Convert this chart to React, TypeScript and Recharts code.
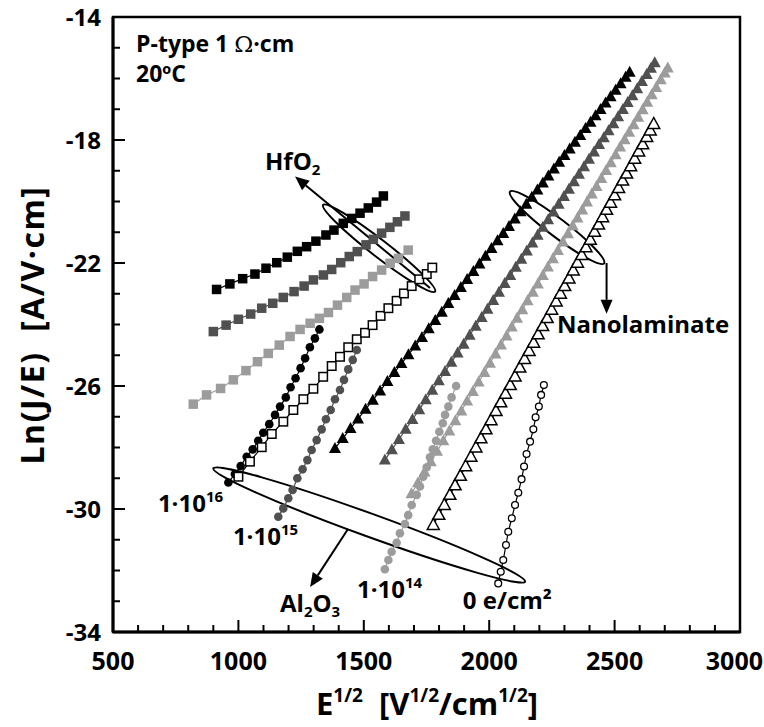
import React from 'react';
import { ScatterChart, Scatter, XAxis, YAxis, ReferenceArea, ReferenceLine, ReferenceDot } from 'recharts';

const FONT = '"Open Sans", "DejaVu Sans", sans-serif';
const DARK = '#505050';
const LIGHT = '#9c9c9c';

// axis ticks (labels only every 500 / every 4)
const xTicks = [500, 600, 700, 800, 900, 1000, 1100, 1200, 1300, 1400, 1500, 1600, 1700, 1800, 1900, 2000, 2100, 2200, 2300, 2400, 2500, 2600, 2700, 2800, 2900, 3000];
const yTicks = [-34, -33, -32, -31, -30, -29, -28, -27, -26, -25, -24, -23, -22, -21, -20, -19, -18, -17, -16, -15, -14];

// HfO2 (squares)
const hfBlackX = [913, 966, 1017, 1066, 1110, 1153, 1195, 1235, 1272, 1309, 1349, 1381, 1418, 1452, 1485, 1518, 1551, 1578];
const hfBlackY = [-22.86, -22.68, -22.51, -22.36, -22.17, -21.99, -21.81, -21.62, -21.47, -21.29, -21.09, -20.93, -20.71, -20.55, -20.38, -20.21, -20.02, -19.82];
const hfDarkX = [900, 951, 1000, 1049, 1093, 1137, 1179, 1222, 1262, 1299, 1339, 1372, 1408, 1442, 1474, 1509, 1538, 1571, 1604, 1634, 1664];
const hfDarkY = [-24.23, -24.02, -23.83, -23.66, -23.47, -23.31, -23.12, -22.93, -22.75, -22.55, -22.39, -22.21, -21.99, -21.79, -21.63, -21.41, -21.23, -21.03, -20.84, -20.66, -20.47];
const hfLightX = [820, 873, 929, 980, 1030, 1076, 1119, 1163, 1206, 1246, 1286, 1323, 1359, 1395, 1432, 1465, 1501, 1535, 1571, 1605, 1638, 1677];
const hfLightY = [-26.59, -26.29, -26.08, -25.8, -25.5, -25.21, -24.94, -24.67, -24.39, -24.16, -23.96, -23.8, -23.61, -23.37, -23.12, -22.88, -22.68, -22.44, -22.23, -22.01, -21.85, -21.58];
const hfOpenX = [1000, 1046, 1093, 1133, 1179, 1219, 1259, 1299, 1338, 1372, 1405, 1438, 1472, 1505, 1535, 1567, 1598, 1631, 1660, 1691, 1721, 1751, 1773];
const hfOpenY = [-28.95, -28.46, -27.99, -27.56, -27.16, -26.78, -26.43, -26.09, -25.7, -25.35, -25.05, -24.74, -24.48, -24.27, -24.02, -23.72, -23.47, -23.23, -22.99, -22.75, -22.53, -22.36, -22.15];

// Al2O3 (circles), by injected charge
const al16X = [960, 986, 1009, 1033, 1057, 1079, 1099, 1123, 1146, 1166, 1189, 1208, 1228, 1248, 1266, 1285, 1305, 1323];
const al16Y = [-29.14, -28.86, -28.6, -28.3, -28.06, -27.78, -27.52, -27.24, -26.94, -26.67, -26.37, -26.04, -25.75, -25.42, -25.1, -24.74, -24.45, -24.16];
const al15X = [1159, 1179, 1199, 1216, 1235, 1256, 1275, 1292, 1312, 1332, 1349, 1368, 1385, 1405, 1421, 1438, 1456, 1472];
const al15Y = [-30.25, -29.98, -29.65, -29.38, -29.0, -28.71, -28.41, -28.08, -27.76, -27.41, -27.08, -26.78, -26.43, -26.13, -25.8, -25.46, -25.15, -24.83];
const al14X = [1584, 1598, 1611, 1631, 1644, 1664, 1677, 1691, 1711, 1724, 1737, 1751, 1764, 1775, 1788, 1801, 1815, 1824, 1837, 1850, 1868];
const al14Y = [-31.96, -31.66, -31.39, -31.1, -30.79, -30.49, -30.2, -29.87, -29.54, -29.27, -28.95, -28.64, -28.32, -28.06, -27.78, -27.49, -27.21, -26.94, -26.67, -26.37, -26.0];
const al0X = [2036, 2046, 2056, 2067, 2076, 2090, 2103, 2116, 2129, 2139, 2149, 2163, 2176, 2185, 2198, 2207, 2218];
const al0Y = [-32.42, -32.04, -31.66, -31.17, -30.74, -30.3, -29.87, -29.47, -29.03, -28.62, -28.21, -27.81, -27.41, -27.02, -26.67, -26.29, -25.97];

// Nanolaminate (triangles)
const nlBlackX = [1385, 1416, 1447, 1477, 1507, 1536, 1565, 1594, 1622, 1650, 1678, 1705, 1732, 1759, 1785, 1811, 1837, 1862, 1887, 1912, 1937, 1961, 1985, 2009, 2033, 2056, 2079, 2102, 2125, 2148, 2170, 2192, 2214, 2236, 2258, 2279, 2300, 2321, 2342, 2363, 2384, 2404, 2424, 2444, 2464, 2484, 2504, 2524, 2544, 2560];
const nlBlackY = [-28.03, -27.71, -27.38, -27.07, -26.76, -26.46, -26.16, -25.85, -25.56, -25.27, -24.98, -24.7, -24.42, -24.14, -23.87, -23.6, -23.32, -23.06, -22.8, -22.54, -22.28, -22.03, -21.78, -21.53, -21.28, -21.04, -20.81, -20.57, -20.33, -20.09, -19.86, -19.63, -19.4, -19.17, -18.94, -18.72, -18.5, -18.29, -18.07, -17.85, -17.63, -17.42, -17.21, -17.01, -16.8, -16.59, -16.38, -16.17, -15.96, -15.8];
const nlDarkX = [1584, 1612, 1640, 1667, 1694, 1721, 1747, 1773, 1799, 1824, 1849, 1874, 1898, 1922, 1946, 1970, 1993, 2016, 2039, 2062, 2084, 2106, 2128, 2150, 2172, 2193, 2214, 2235, 2256, 2277, 2298, 2318, 2338, 2358, 2378, 2398, 2418, 2438, 2457, 2476, 2495, 2514, 2533, 2552, 2571, 2590, 2609, 2628, 2645, 2660];
const nlDarkY = [-28.41, -28.07, -27.74, -27.41, -27.09, -26.77, -26.45, -26.14, -25.83, -25.53, -25.23, -24.93, -24.64, -24.35, -24.06, -23.77, -23.5, -23.22, -22.95, -22.67, -22.41, -22.14, -21.88, -21.61, -21.35, -21.1, -20.84, -20.59, -20.34, -20.09, -19.84, -19.6, -19.36, -19.11, -18.87, -18.63, -18.39, -18.15, -17.93, -17.7, -17.47, -17.24, -17.01, -16.78, -16.56, -16.33, -16.1, -15.87, -15.67, -15.49];
const nlLightX = [1690, 1716, 1742, 1767, 1792, 1817, 1841, 1865, 1889, 1912, 1935, 1958, 1981, 2003, 2025, 2047, 2069, 2090, 2111, 2132, 2153, 2174, 2194, 2214, 2234, 2254, 2274, 2294, 2314, 2333, 2352, 2371, 2390, 2409, 2428, 2447, 2466, 2485, 2504, 2522, 2540, 2558, 2576, 2594, 2612, 2630, 2648, 2666, 2684, 2700, 2712];
const nlLightY = [-29.5, -29.15, -28.8, -28.46, -28.12, -27.78, -27.46, -27.13, -26.81, -26.49, -26.18, -25.87, -25.56, -25.26, -24.96, -24.67, -24.37, -24.08, -23.8, -23.52, -23.23, -22.95, -22.68, -22.41, -22.13, -21.86, -21.59, -21.32, -21.05, -20.79, -20.54, -20.28, -20.02, -19.76, -19.51, -19.25, -18.99, -18.74, -18.48, -18.23, -17.99, -17.75, -17.5, -17.26, -17.02, -16.77, -16.53, -16.29, -16.04, -15.82, -15.66];
const nlOpenX = [1777, 1799, 1821, 1843, 1864, 1885, 1906, 1927, 1947, 1967, 1987, 2007, 2027, 2046, 2065, 2084, 2103, 2122, 2141, 2159, 2177, 2195, 2213, 2231, 2249, 2267, 2284, 2301, 2318, 2335, 2352, 2369, 2386, 2403, 2420, 2436, 2452, 2468, 2484, 2500, 2516, 2532, 2548, 2564, 2580, 2596, 2612, 2628, 2642, 2656];
const nlOpenY = [-30.52, -30.19, -29.87, -29.54, -29.23, -28.92, -28.61, -28.3, -28.0, -27.7, -27.41, -27.11, -26.81, -26.53, -26.25, -25.97, -25.69, -25.4, -25.12, -24.86, -24.59, -24.32, -24.05, -23.79, -23.52, -23.25, -23.0, -22.75, -22.5, -22.24, -21.99, -21.74, -21.49, -21.24, -20.98, -20.75, -20.51, -20.27, -20.04, -19.8, -19.56, -19.32, -19.09, -18.85, -18.61, -18.37, -18.14, -17.9, -17.69, -17.48];

const zip = (xs: number[], ys: number[]) => xs.map((x, i) => ({ x, y: ys[i] }));

// marker shapes
const square = (fill: string, stroke?: string, size = 9.5) => (p: any) => (
  <rect x={p.cx - size / 2} y={p.cy - size / 2} width={size} height={size}
    fill={fill} stroke={stroke ?? 'none'} strokeWidth={1.5} />
);
const circle = (fill: string, stroke?: string, r = 4.3) => (p: any) => (
  <circle cx={p.cx} cy={p.cy} r={r} fill={fill} stroke={stroke ?? 'none'} strokeWidth={1.3} />
);
const triangle = (fill: string, stroke?: string) => (p: any) => (
  <polygon
    points={`${p.cx},${p.cy - 6.5} ${p.cx - 6},${p.cy + 4.5} ${p.cx + 6},${p.cy + 4.5}`}
    fill={fill} stroke={stroke ?? 'none'} strokeWidth={1.5} strokeLinejoin="miter" />
);

const series = [
  { id: 'nl-black', data: zip(nlBlackX, nlBlackY), shape: triangle('#000'), line: '#000' },
  { id: 'nl-dark', data: zip(nlDarkX, nlDarkY), shape: triangle(DARK), line: DARK },
  { id: 'nl-light', data: zip(nlLightX, nlLightY), shape: triangle(LIGHT), line: LIGHT },
  { id: 'nl-open', data: zip(nlOpenX, nlOpenY), shape: triangle('#fff', '#000'), line: '#000' },
  { id: 'hf-black', data: zip(hfBlackX, hfBlackY), shape: square('#000'), line: '#000' },
  { id: 'hf-dark', data: zip(hfDarkX, hfDarkY), shape: square(DARK), line: DARK },
  { id: 'hf-light', data: zip(hfLightX, hfLightY), shape: square(LIGHT), line: LIGHT },
  { id: 'al-16', data: zip(al16X, al16Y), shape: circle('#000'), line: '#000' },
  { id: 'hf-open', data: zip(hfOpenX, hfOpenY), shape: square('#fff', '#000', 8.5), line: '#000' },
  { id: 'al-15', data: zip(al15X, al15Y), shape: circle(DARK), line: DARK },
  { id: 'al-14', data: zip(al14X, al14Y), shape: circle(LIGHT), line: LIGHT },
  { id: 'al-0', data: zip(al0X, al0Y), shape: circle('#fff', '#000', 3.4), line: '#000' },
];

const XTick = (p: any) => {
  const v = p.payload.value;
  const major = v % 500 === 0;
  const last = v === 3000;
  return (
    <g>
      <line x1={p.x} x2={p.x} y1={p.y} y2={p.y - (major ? 12 : 7)} stroke="#000" strokeWidth={2} />
      {major && (
        <text x={last ? p.x + 23 : p.x} y={p.y + 38} textAnchor={last ? 'end' : 'middle'}
          fontFamily={FONT} fontWeight={700} fontSize={25} fill="#000">{v}</text>
      )}
    </g>
  );
};

const YTick = (p: any) => {
  const v = p.payload.value;
  const major = (v + 34) % 4 === 0;
  return (
    <g>
      <line x1={p.x} x2={p.x + (major ? 12 : 7)} y1={p.y} y2={p.y} stroke="#000" strokeWidth={2} />
      {major && (
        <text x={p.x - 12} y={p.y + 9} textAnchor="end" fontFamily={FONT} fontWeight={700} fontSize={24} fill="#000">{v}</text>
      )}
    </g>
  );
};

const XTitle = () => (
  <text x={427} y={715} textAnchor="middle" fontFamily={FONT} fontWeight={700} fontSize={31} fill="#000">
    E<tspan fontSize={19} dy={-13}>1/2</tspan>
    <tspan dy={13}>{'\u00a0\u00a0[V'}</tspan>
    <tspan fontSize={19} dy={-13}>1/2</tspan>
    <tspan dy={13}>/cm</tspan>
    <tspan fontSize={19} dy={-13}>1/2</tspan>
    <tspan dy={13}>]</tspan>
  </text>
);

const YTitle = () => (
  <text x={31} y={325} transform="rotate(-90 31 325)" textAnchor="middle" dominantBaseline="central"
    fontFamily={FONT} fontWeight={700} fontSize={32} letterSpacing={1.5} fill="#000">
    {'Ln(J/E)\u00a0\u00a0[A/V\u00b7cm]'}
  </text>
);

// rotated ellipse whose major axis is the reference segment
const ellipseShape = (ry: number) => (p: any) => {
  const cx = (p.x1 + p.x2) / 2;
  const cy = (p.y1 + p.y2) / 2;
  const rx = Math.hypot(p.x2 - p.x1, p.y2 - p.y1) / 2;
  const ang = (Math.atan2(p.y2 - p.y1, p.x2 - p.x1) * 180) / Math.PI;
  return <ellipse cx={cx} cy={cy} rx={rx} ry={ry} transform={`rotate(${ang} ${cx} ${cy})`} fill="none" stroke="#000" strokeWidth={2} />;
};

const arrowShape = (p: any) => {
  const a = Math.atan2(p.y2 - p.y1, p.x2 - p.x1);
  const len = 14;
  const half = 6;
  const bx = p.x2 - len * Math.cos(a);
  const by = p.y2 - len * Math.sin(a);
  const nx = -Math.sin(a) * half;
  const ny = Math.cos(a) * half;
  return (
    <g>
      <line x1={p.x1} y1={p.y1} x2={bx} y2={by} stroke="#000" strokeWidth={2} />
      <polygon points={`${p.x2},${p.y2} ${bx + nx},${by + ny} ${bx - nx},${by - ny}`} fill="#000" />
    </g>
  );
};

const note = (content: React.ReactNode, size = 24) => (p: any) => (
  <text x={p.cx} y={p.cy} fontFamily={FONT} fontWeight={700} fontSize={size} fill="#000">{content}</text>
);

const sup = (t: string) => (
  <tspan fontSize={15} dy={-10}>{t}</tspan>
);

export default function App() {
  return (
    <div style={{ position: 'absolute', left: 0, top: 0, background: '#fff' }}>
      <ScatterChart width={764} height={727} margin={{ top: 17, right: 24, left: 43, bottom: 45 }}>
        <XAxis
          type="number" dataKey="x" domain={[500, 3000]} ticks={xTicks} interval={0}
          allowDataOverflow height={50} tickSize={0} tickMargin={0} tickLine={false}
          axisLine={{ stroke: '#000', strokeWidth: 3 }}
          tick={(p: any) => <XTick {...p} />}
          label={{ content: () => <XTitle /> }}
        />
        <YAxis
          type="number" dataKey="y" domain={[-34, -14]} ticks={yTicks} interval={0}
          allowDataOverflow width={70} tickSize={0} tickMargin={0} tickLine={false}
          axisLine={{ stroke: '#000', strokeWidth: 3 }}
          tick={(p: any) => <YTick {...p} />}
          label={{ content: () => <YTitle /> }}
        />
        <ReferenceArea x1={500} x2={3000} y1={-34} y2={-14} fill="none" stroke="#000" strokeWidth={2.5} />

        {series.map((s) => (
          <Scatter
            key={s.id}
            data={s.data}
            shape={s.shape}
            line={{ stroke: s.line, strokeWidth: 1.2 }}
            isAnimationActive={false}
          />
        ))}

        {/* group outlines and pointers */}
        <ReferenceLine segment={[{ x: 1338, y: -20.11 }, { x: 1784, y: -22.93 }]} shape={ellipseShape(8.5)} />
        <ReferenceLine segment={[{ x: 1764, y: -22.81 }, { x: 1226, y: -19.19 }]} shape={arrowShape} />
        <ReferenceLine segment={[{ x: 2083, y: -19.68 }, { x: 2458, y: -22.01 }]} shape={ellipseShape(9)} />
        <ReferenceLine segment={[{ x: 2468, y: -22.0 }, { x: 2468, y: -23.65 }]} shape={arrowShape} />
        <ReferenceLine segment={[{ x: 900, y: -28.68 }, { x: 2143, y: -32.36 }]} shape={ellipseShape(11.5)} />
        <ReferenceLine segment={[{ x: 1437, y: -30.65 }, { x: 1286, y: -32.54 }]} shape={arrowShape} />

        <ReferenceDot x={592} y={-15.14} shape={note(<>P-type 1 <tspan fontFamily='"DejaVu Serif", serif' fontWeight={400}>Ω</tspan>·cm</>, 23)} />
        <ReferenceDot x={592} y={-16.11} shape={note('20ºC', 23)} />
        <ReferenceDot x={1106} y={-18.98} shape={note(<>HfO<tspan fontSize={15} dy={5}>2</tspan></>)} />
        <ReferenceDot x={2270} y={-24.28} shape={note('Nanolaminate')} />
        <ReferenceDot x={679} y={-30.1} shape={note(<>1·10{sup('16')}</>)} />
        <ReferenceDot x={978} y={-31.17} shape={note(<>1·10{sup('15')}</>)} />
        <ReferenceDot x={1473} y={-32.89} shape={note(<>1·10{sup('14')}</>)} />
        <ReferenceDot x={1166} y={-33.35} shape={note(<>Al<tspan fontSize={15} dy={5}>2</tspan><tspan dy={-5}>O</tspan><tspan fontSize={15} dy={5}>3</tspan></>)} />
        <ReferenceDot x={1895} y={-33.25} shape={note('0 e/cm²')} />
      </ScatterChart>
    </div>
  );
}
